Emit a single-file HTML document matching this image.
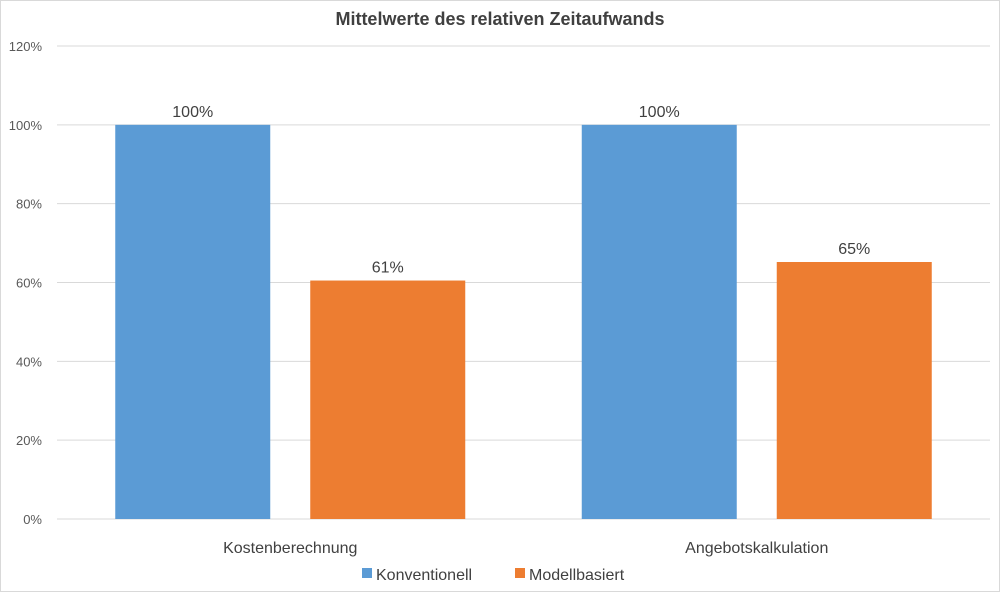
<!DOCTYPE html>
<html><head><meta charset="utf-8"><style>
html,body{margin:0;padding:0;background:#fff}
svg text{font-family:"Liberation Sans",sans-serif}
</style></head><body>
<svg width="1000" height="592" viewBox="0 0 1000 592" id="chart">
<rect x="0.5" y="0.5" width="999" height="591" fill="#fff" stroke="#d9d9d9"/>
<text x="500" y="25" text-anchor="middle" font-size="18" font-weight="bold" fill="#404040">Mittelwerte des relativen Zeitaufwands</text>
<g id="grid"></g><g id="bars"></g><g id="labels"></g>
<g>
<rect x="362" y="568" width="10" height="10" fill="#5b9bd5"/>
<text x="376" y="580" font-size="16" fill="#404040">Konventionell</text>
<rect x="515" y="568" width="10" height="10" fill="#ed7d31"/>
<text x="529" y="580" font-size="16" fill="#404040">Modellbasiert</text>
</g>
</svg>
<script>
const categories = ["Kostenberechnung", "Angebotskalkulation"];
const konventionell = [1.0, 1.0];
const modellbasiert = [0.605, 0.652];
const valueLabels = [["100%", "61%"], ["100%", "65%"]];
const yTicks = [0, 0.2, 0.4, 0.6, 0.8, 1.0, 1.2];
const yTickLabels = ["0%", "20%", "40%", "60%", "80%", "100%", "120%"];

const NS = "http://www.w3.org/2000/svg";
const x0 = 57, x1 = 990, yBase = 519, yTop = 46;
const y = v => yBase - (v / 1.2) * (yBase - yTop);
const groupW = (x1 - x0) / categories.length;
const barW = 155, gap = 40;
function mk(tag, attrs, parent) { const e = document.createElementNS(NS, tag); for (const k in attrs) e.setAttribute(k, attrs[k]); parent.appendChild(e); return e; }
const grid = document.getElementById('grid'), bars = document.getElementById('bars'), labels = document.getElementById('labels');
yTicks.forEach((t, i) => {
  const l = mk('line', {x1: x0, x2: x1, y1: y(t), y2: y(t), stroke: '#d9d9d9', 'stroke-width': 1}, grid);
  
  
  const tx = mk('text', {x: 42, y: y(t) + 5, 'text-anchor': 'end', 'font-size': 13, fill: '#595959'}, grid);
  tx.textContent = yTickLabels[i];
  
  
});
const series = [konventionell, modellbasiert], colors = ['#5b9bd5', '#ed7d31'], names = ['konventionell', 'modellbasiert'];
categories.forEach((c, ci) => {
  const cx = x0 + groupW * (ci + 0.5);
  const start = cx - barW - gap / 2;
  series.forEach((s, si) => {
    const bx = start + si * (barW + gap);
    const r = mk('rect', {x: bx, y: y(s[ci]), width: barW, height: yBase - y(s[ci]), fill: colors[si]}, bars);
    
    
    const t = mk('text', {x: bx + barW / 2, y: y(s[ci]) - 8, 'text-anchor': 'middle', 'font-size': 16, fill: '#404040'}, labels);
    t.textContent = valueLabels[ci][si];
    
    
  });
  const ct = mk('text', {x: cx, y: 553, 'text-anchor': 'middle', 'font-size': 16, fill: '#404040'}, labels);
  ct.textContent = c;
  
  
});
</script>
</body></html>
